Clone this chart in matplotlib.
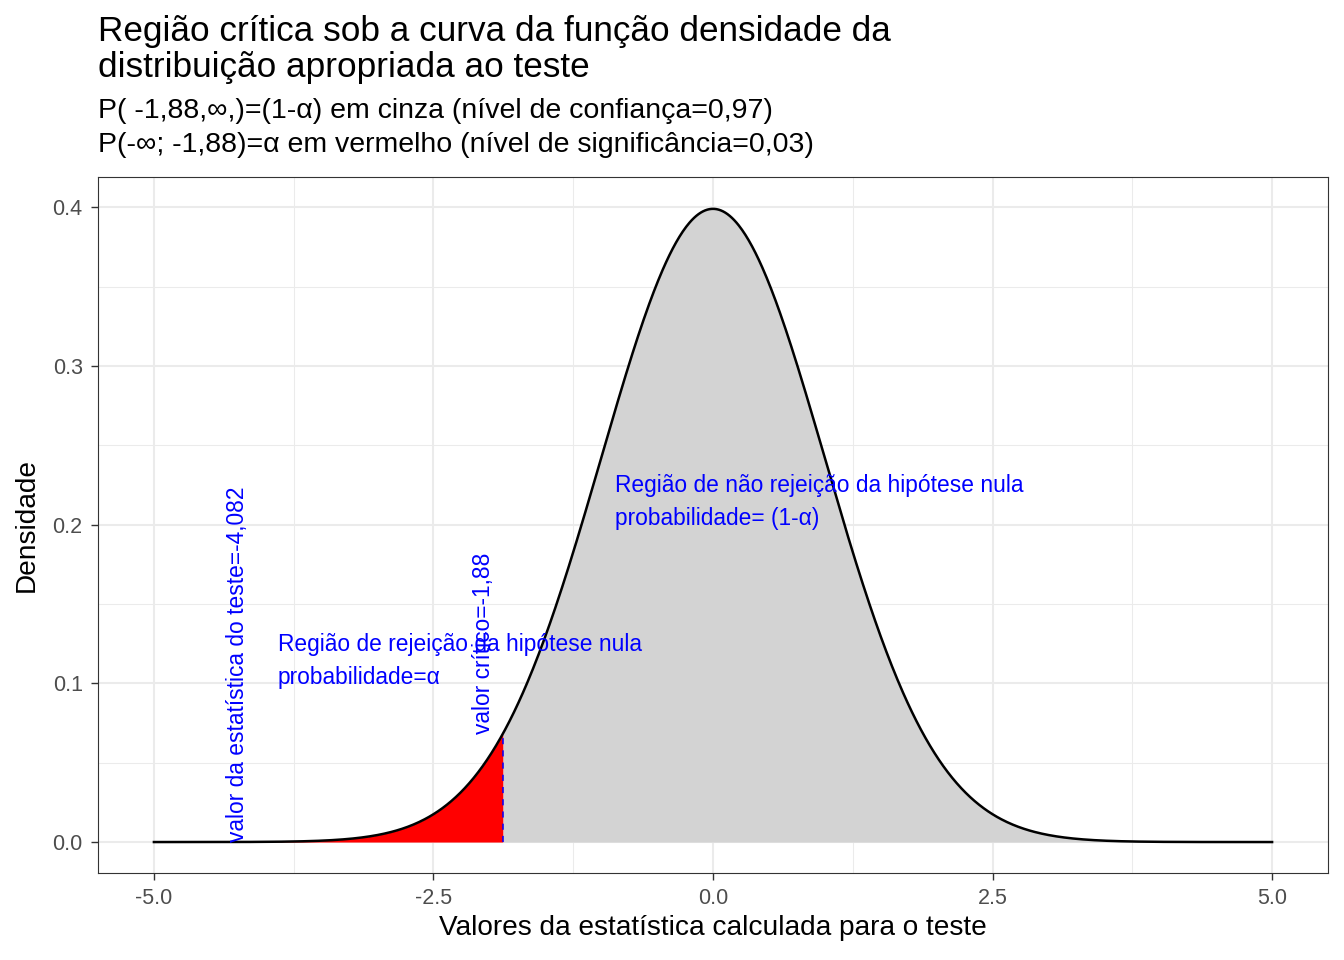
import numpy as np
import matplotlib
matplotlib.use("Agg")
import matplotlib.pyplot as plt

plt.rcParams['font.family'] = ['Liberation Sans', 'DejaVu Sans']

# dados do teste
media = 0.0
desvio = 1.0
x_min, x_max = -5.0, 5.0
valor_critico = -1.88
estatistica = -4.082
x_ticks = [-5.0, -2.5, 0.0, 2.5, 5.0]
x_tick_labels = ["-5.0", "-2.5", "0.0", "2.5", "5.0"]
y_ticks = [0.0, 0.1, 0.2, 0.3, 0.4]
y_tick_labels = ["0.0", "0.1", "0.2", "0.3", "0.4"]

titulo = ["Região crítica sob a curva da função densidade da",
          "distribuição apropriada ao teste"]
subtitulo = ["P( -1,88,∞,)=(1-α) em cinza (nível de confiança=0,97)",
             "P(-∞; -1,88)=α em vermelho (nível de significância=0,03)"]


def dens(x):
    return np.exp(-0.5 * ((x - media) / desvio) ** 2) / (desvio * np.sqrt(2 * np.pi))


x = np.linspace(x_min, x_max, 1001)
y = dens(x)

W, H = 1344, 960
fig = plt.figure(figsize=(W / 100, H / 100), dpi=100)
ax = fig.add_axes([98 / W, 1 - 873 / H, (1328 - 98) / W, (873 - 177) / H])

# grade estilo theme_bw
ax.set_axisbelow(True)
ax.set_xticks([-3.75, -1.25, 1.25, 3.75], minor=True)
ax.set_yticks([0.05, 0.15, 0.25, 0.35], minor=True)
ax.grid(which='major', color='#EBEBEB', linewidth=1.5)
ax.grid(which='minor', color='#EBEBEB', linewidth=0.75)
ax.tick_params(which='minor', length=0)

xr = x[x <= valor_critico]
xg = x[x >= valor_critico]
ax.fill_between(xg, 0, dens(xg), color='#D3D3D3', linewidth=0)
ax.fill_between(xr, 0, dens(xr), color='red', linewidth=0)
ax.plot([valor_critico, valor_critico], [0, dens(valor_critico)], color='blue',
        linestyle=(0, (4, 4)), linewidth=1.1)
ax.plot(x, y, color='black', linewidth=1.8)

cor_txt = 'blue'
ax.text(-0.88, 0.214, "Região de não rejeição da hipótese nula\nprobabilidade= (1-α)",
        color=cor_txt, fontsize=16.4, ha='left', va='center', linespacing=1.55)
ax.text(-3.89, 0.114, "Região de rejeição da hipótese nula\nprobabilidade=α",
        color=cor_txt, fontsize=16.4, ha='left', va='center', linespacing=1.55)
ax.text(-4.25, 0.0, "valor da estatística do teste=-4,082", color=cor_txt, fontsize=16.4,
        rotation=90, ha='center', va='bottom')
ax.text(-2.05, dens(valor_critico), "valor crítico=-1,88", color=cor_txt, fontsize=16.4,
        rotation=90, ha='center', va='bottom')

ax.set_xlim(-5.5, 5.5)
ax.set_ylim(-0.0195, 0.419)
ax.set_xticks(x_ticks)
ax.set_xticklabels(x_tick_labels)
ax.set_yticks(y_ticks)
ax.set_yticklabels(y_tick_labels)
ax.tick_params(which='major', length=5, width=1, color='#333333', labelcolor='#4D4D4D',
               labelsize=15.5, pad=6)
for s in ax.spines.values():
    s.set_color('#333333')
    s.set_linewidth(0.8)

fig.text(713 / W, 1 - 928 / H, "Valores da estatística calculada para o teste",
         fontsize=20.2, ha='center', va='center')
fig.text(27 / W, 1 - 525 / H, "Densidade", fontsize=20.2, rotation=90,
         ha='center', va='center')

for linha, base in zip(titulo, [41, 77]):
    fig.text(98 / W, 1 - base / H, linha, fontsize=25.3, ha='left', va='baseline')
for linha, base in zip(subtitulo, [118, 152]):
    fig.text(98 / W, 1 - base / H, linha, fontsize=20.5, ha='left', va='baseline')

fig.savefig("out.png", dpi=100)
